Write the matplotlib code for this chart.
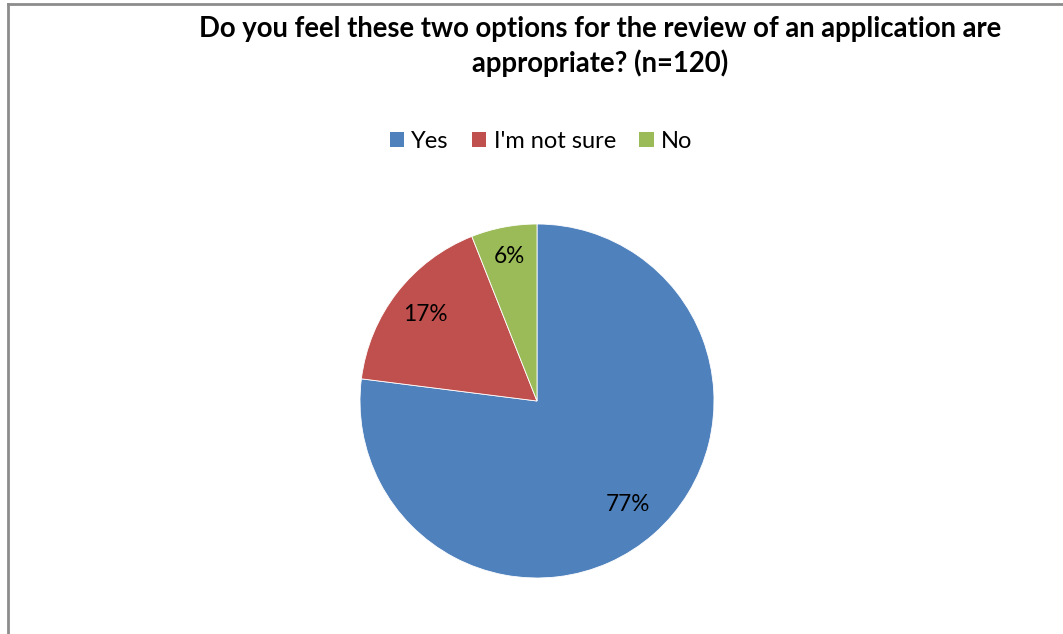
import matplotlib
matplotlib.use("Agg")
import matplotlib.pyplot as plt
from matplotlib.patches import Patch
from matplotlib.lines import Line2D
import numpy as np

# Survey answers (share of respondents, %)
categories = ["Yes", "I'm not sure", "No"]
shares = [77, 17, 6]
colors = ["#4F81BD", "#C0504D", "#9BBB59"]
title_lines = ["Do you feel these two options for the review of an application are",
               "appropriate? (n=120)"]

# radial placement of each percentage label (fraction of radius)
label_radius = [0.78, 0.80, 0.83]

plt.rcParams["font.family"] = ["Lato", "DejaVu Sans"]

W, H = 1063, 634
fig = plt.figure(figsize=(W / 100, H / 100), dpi=100)
fig.patch.set_facecolor("white")

# outer chart-area frame (left and top edges)
fig.add_artist(Line2D([7.5 / W, 7.5 / W], [0, 1 - 4 / H], color="#8c8c8c", lw=2,
                      transform=fig.transFigure))
fig.add_artist(Line2D([7.5 / W, 1], [1 - 4 / H, 1 - 4 / H], color="#8c8c8c", lw=2,
                      transform=fig.transFigure))

cx, cy, r = 537, 401, 177
ax = fig.add_axes([(cx - r) / W, (H - cy - r) / H, 2 * r / W, 2 * r / H])
wedges, _ = ax.pie(shares, colors=colors, startangle=90, counterclock=False,
                   radius=1, wedgeprops=dict(edgecolor="white", linewidth=0.6))
ax.set_xlim(-1, 1)
ax.set_ylim(-1, 1)
ax.set_aspect("equal")
ax.axis("off")

for w, v, d in zip(wedges, shares, label_radius):
    ang = np.deg2rad((w.theta1 + w.theta2) / 2)
    ax.text(d * np.cos(ang), d * np.sin(ang), f"{v}%", ha="center", va="center",
            fontsize=16.3, color="#000000")

# two-line bold title
for line, base in zip(title_lines, [37, 72]):
    fig.text(600 / W, 1 - base / H, line, ha="center", va="baseline", fontsize=19.8,
             fontweight="bold", color="#000000")

handles = [Patch(facecolor=c, edgecolor="none") for c in colors]
fig.legend(handles, categories, loc="center", bbox_to_anchor=(541 / W, 1 - 141.5 / H),
           ncol=3, frameon=False, fontsize=17, handlelength=0.6, handleheight=0.6,
           handletextpad=0.3, columnspacing=1.0, borderpad=0, borderaxespad=0)

fig.savefig("out.png", dpi=100, facecolor="white")
